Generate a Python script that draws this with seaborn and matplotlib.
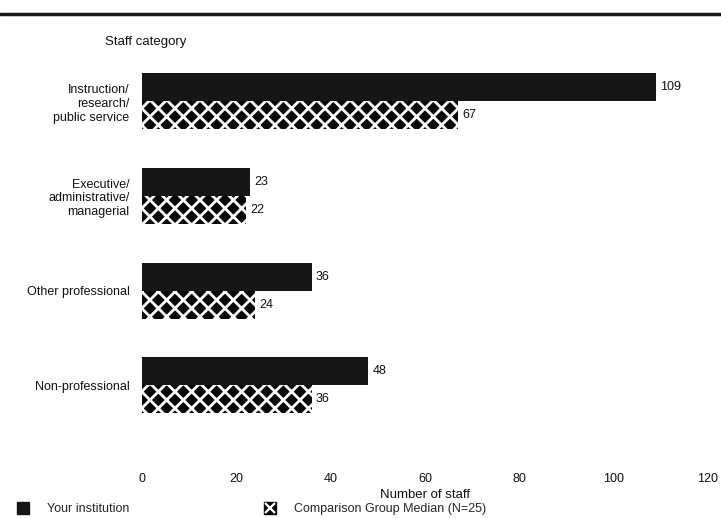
import matplotlib
matplotlib.use("Agg")
import matplotlib.pyplot as plt
from matplotlib.lines import Line2D
import seaborn as sns
import pandas as pd

# values
categories = ["Instruction/\nresearch/\npublic service",
              "Executive/\nadministrative/\nmanagerial",
              "Other professional",
              "Non-professional"]
your_institution = [109, 23, 36, 48]
comparison_median = [67, 22, 24, 36]
series_names = ["Your institution", "Comparison Group Median (N=25)"]
x_ticks = [0, 20, 40, 60, 80, 100, 120]

def main():
    df = pd.DataFrame({
        "category": categories * 2,
        "staff": your_institution + comparison_median,
        "series": [series_names[0]] * len(categories) + [series_names[1]] * len(categories),
    })

    sns.set_style("white")
    plt.rcParams["font.family"] = ["Liberation Sans", "DejaVu Sans"]
    plt.rcParams["hatch.linewidth"] = 2.0

    fig = plt.figure(figsize=(7.21, 5.18), dpi=100)
    # axes placed so 0..120 spans roughly px 142..708
    ax = fig.add_axes([142 / 721, 56 / 518, 566 / 721, 408 / 518])

    sns.barplot(data=df, y="category", x="staff", hue="series", orient="h",
                palette=["#161616", "#0a0a0a"], width=0.59, ax=ax, legend=False)

    # hatched comparison bars: black face, white criss-cross
    for bar in ax.containers[1]:
        bar.set_hatch("xx")
        bar.set_edgecolor("white")
        bar.set_linewidth(0)
    for bar in ax.containers[0]:
        bar.set_linewidth(0)

    for cont in ax.containers:
        ax.bar_label(cont, padding=3, fontsize=9, color="#111111")

    ax.set_xlim(0, 120)
    ax.set_ylim(3.81, -0.5)
    ax.set_xticks(x_ticks)
    ax.tick_params(axis="both", length=0, labelsize=9, colors="#111111")
    ax.tick_params(axis="x", pad=8)
    ax.tick_params(axis="y", pad=9)
    ax.set_ylabel("")
    ax.set_xlabel("Number of staff", fontsize=9.5, color="#111111", labelpad=3)
    sns.despine(ax=ax, left=True, bottom=True)

    fig.text(105 / 721, 1 - 42 / 518, "Staff category", fontsize=9.5,
             va="center", ha="left", color="#111111")

    # heavy rule across the top
    fig.add_artist(Line2D([0, 1], [1 - 14 / 518, 1 - 14 / 518],
                          color="#1a1a1a", lw=2.5, transform=fig.transFigure))

    # legend swatches: plain black square, and black square with a white X on top
    solid = Line2D([], [], marker="s", color="#161616", markersize=8, linestyle="")
    box = Line2D([], [], marker="s", color="#0a0a0a", markersize=9, linestyle="")
    cross = Line2D([], [], marker="x", color="white", markersize=6.5,
                   markeredgewidth=1.6, linestyle="")
    fig.legend([solid, (box, cross)], series_names, loc="lower left",
               bbox_to_anchor=(0.008, -0.016), ncol=2, frameon=False, fontsize=9,
               handlelength=0.9, handletextpad=1.5, columnspacing=10.8)

    plt.savefig("out.png", dpi=100)
    plt.close()

if __name__ == '__main__':
    main()
